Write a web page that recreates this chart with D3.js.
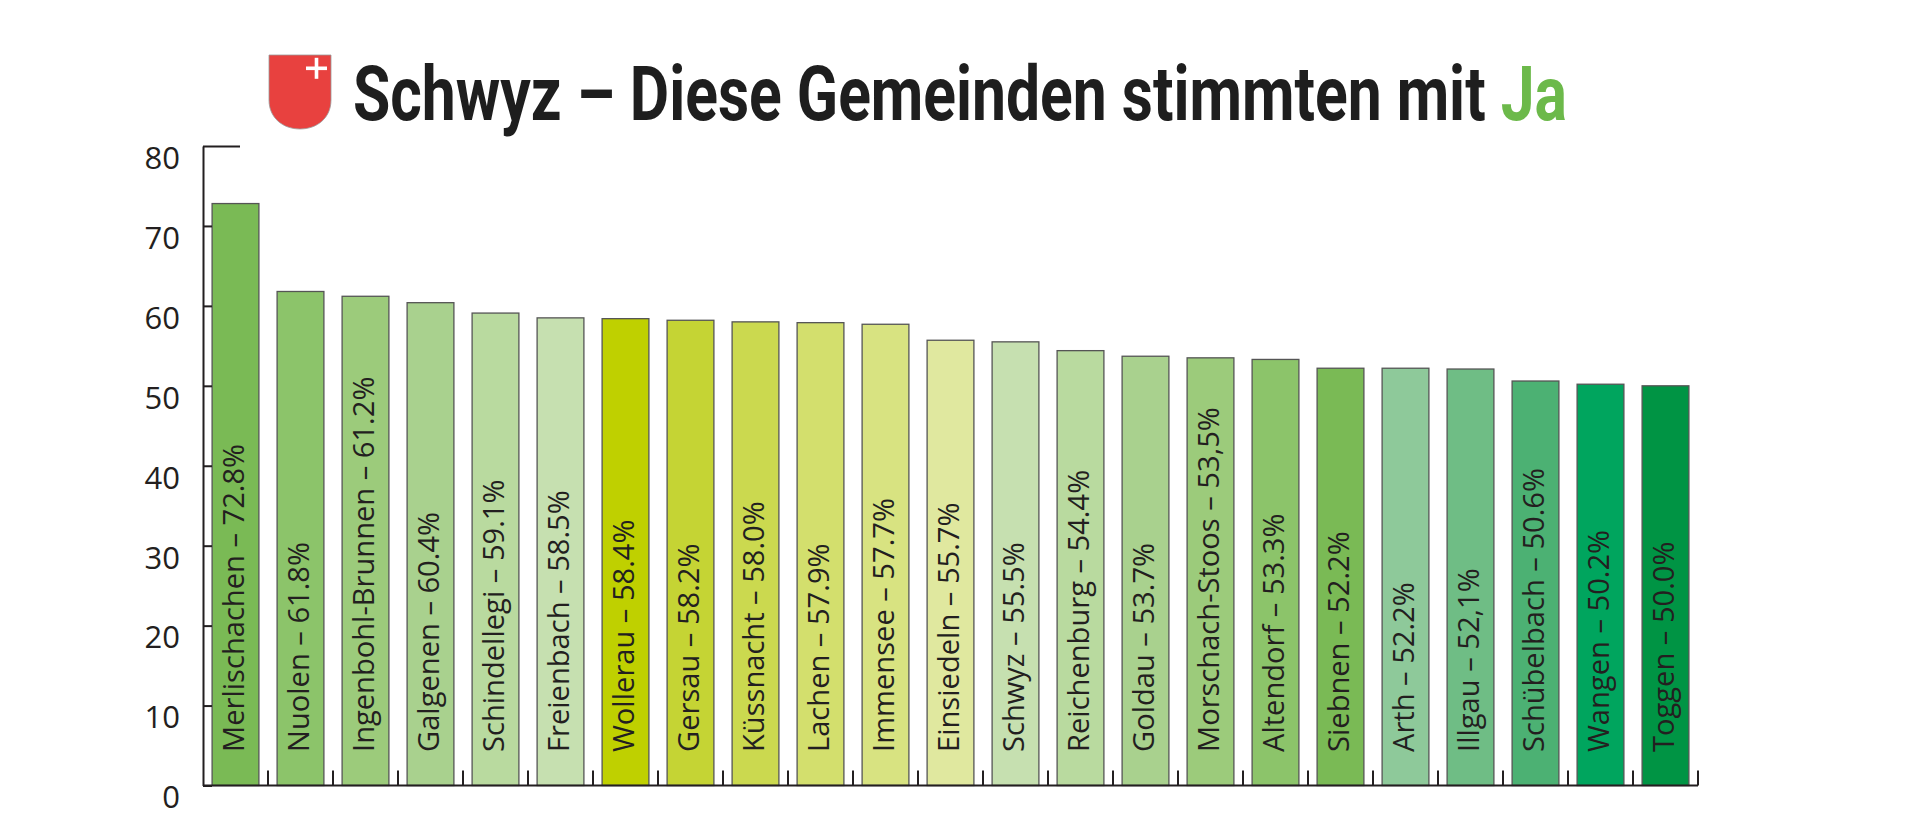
<!DOCTYPE html>
<html>
<head>
<meta charset="utf-8">
<script src="https://cdn.jsdelivr.net/npm/d3@7"></script>
<style>
  html, body { margin: 0; padding: 0; background: #ffffff; }
  svg { display: block; }
</style>
</head>
<body>
<svg id="chart" width="1920" height="823"></svg>
<script>
// ---- data ----
const municipalities = ["Merlischachen", "Nuolen", "Ingenbohl-Brunnen", "Galgenen", "Schindellegi", "Freienbach",
  "Wollerau", "Gersau", "Küssnacht", "Lachen", "Immensee", "Einsiedeln", "Schwyz", "Reichenburg", "Goldau",
  "Morschach-Stoos", "Altendorf", "Siebnen", "Arth", "Illgau", "Schübelbach", "Wangen", "Toggen"];
const yesShare = [72.8, 61.8, 61.2, 60.4, 59.1, 58.5, 58.4, 58.2, 58.0, 57.9, 57.7, 55.7, 55.5, 54.4, 53.7,
  53.5, 53.3, 52.2, 52.2, 52.1, 50.6, 50.2, 50.0];
const shareLabels = ["72.8%", "61.8%", "61.2%", "60.4%", "59.1%", "58.5%", "58.4%", "58.2%", "58.0%", "57.9%",
  "57.7%", "55.7%", "55.5%", "54.4%", "53.7%", "53,5%", "53.3%", "52.2%", "52.2%", "52,1%", "50.6%", "50.2%", "50.0%"];
const barColors = ["#7aba55", "#8cc46a", "#9ccb7b", "#a9d18e", "#b9da9f", "#c6e0b0", "#bfd000", "#c5d434",
  "#cbd94f", "#d3df6d", "#d8e381", "#e0e89f", "#c6e0b0", "#b9da9f", "#a9d18e", "#9ccb7b", "#8cc46a",
  "#7aba55", "#8ec99a", "#6fbd85", "#4cb173", "#00a55e", "#009444"];
const yTicks = [0, 10, 20, 30, 40, 50, 60, 70, 80];
const titleMain = "Schwyz – Diese Gemeinden stimmten mit ";
const titleAccent = "Ja";

const rows = municipalities.map((name, i) => ({ name, value: yesShare[i], label: shareLabels[i], color: barColors[i] }));

// ---- layout ----
const svg = d3.select("#chart");
const ink = "#231f20";

const x = d3.scaleBand()
  .domain(municipalities)
  .range([203, 1698])
  .paddingInner(0.28)
  .paddingOuter(0.14);

const y = d3.scaleLinear().domain([0, 80]).range([785.5, 146]);

// ---- bars ----
svg.append("g").selectAll("rect")
  .data(rows)
  .join("rect")
  .attr("x", d => x(d.name))
  .attr("y", d => y(d.value))
  .attr("width", x.bandwidth())
  .attr("height", d => y(0) - y(d.value))
  .attr("fill", d => d.color)
  .attr("stroke", "#555555")
  .attr("stroke-width", 1.3);

// ---- bar labels ----
svg.append("g").selectAll("text")
  .data(rows)
  .join("text")
  .attr("transform", d => `translate(${x(d.name) + x.bandwidth() / 2 + 8},752) rotate(-90) scale(0.97,1)`)
  .attr("text-anchor", "start")
  .attr("font-family", "'Open Sans', sans-serif")
  .attr("font-size", 30)
  .attr("fill", ink)
  .text(d => `${d.name} – ${d.label}`);

// ---- y axis ----
const yAxis = svg.append("g")
  .attr("transform", `translate(${x.range()[0]},0)`)
  .call(d3.axisLeft(y).tickValues(yTicks).tickSizeInner(-9).tickSizeOuter(0).tickPadding(23));
yAxis.select(".domain").attr("stroke", ink).attr("stroke-width", 2);
yAxis.selectAll(".tick line").attr("stroke", ink).attr("stroke-width", 2);
yAxis.selectAll(".tick").filter(d => d === 80).select("line").attr("x2", 37);
yAxis.selectAll(".tick text")
  .attr("font-family", "'Open Sans', sans-serif")
  .attr("font-size", 31)
  .attr("fill", ink)
  .attr("dy", "0.72em");

// ---- x baseline with boundary ticks ----
const xAxis = svg.append("g");
xAxis.append("line")
  .attr("x1", x.range()[0]).attr("x2", x.range()[1])
  .attr("y1", y(0)).attr("y2", y(0))
  .attr("stroke", ink).attr("stroke-width", 2);
xAxis.selectAll("line.bound")
  .data(municipalities)
  .join("line")
  .attr("class", "bound")
  .attr("x1", d => x(d) + x.bandwidth() + x.step() * x.paddingOuter())
  .attr("x2", d => x(d) + x.bandwidth() + x.step() * x.paddingOuter())
  .attr("y1", y(0)).attr("y2", y(0) - 15)
  .attr("stroke", ink).attr("stroke-width", 2);

// ---- title with coat of arms ----
const arms = svg.append("g");
arms.append("path")
  .attr("d", "M269,55 H331 V100 C331,118 317,129 300,129 C283,129 269,118 269,100 Z")
  .attr("fill", "#e8413f")
  .attr("stroke", "#9a9a9a")
  .attr("stroke-width", 0.8);
arms.append("rect").attr("x", 306).attr("y", 66.5).attr("width", 21).attr("height", 3.6).attr("fill", "#ffffff");
arms.append("rect").attr("x", 314.7).attr("y", 57.8).attr("width", 3.6).attr("height", 21).attr("fill", "#ffffff");

const titleG = svg.append("g");
const title = titleG.append("text")
  .attr("x", 0)
  .attr("y", 0)
  .attr("font-family", "'Liberation Sans Narrow', 'Roboto', sans-serif")
  .attr("font-weight", 700)
  .attr("font-size", 76)
  .attr("fill", "#1e1e1e");
title.append("tspan").text(titleMain);
title.append("tspan").attr("fill", "#6cb94a").text(titleAccent);
const measured = title.node().getComputedTextLength();
const sx = measured > 0 ? 1214 / measured : 1;
titleG.attr("transform", `translate(353,120) scale(${sx},1)`);
</script>
</body>
</html>
